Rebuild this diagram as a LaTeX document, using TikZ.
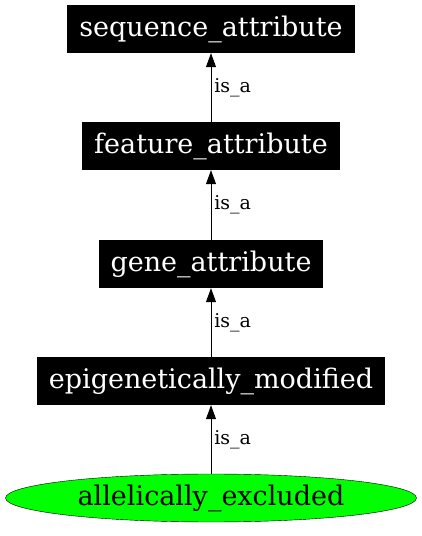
\documentclass[tikz,border=0pt]{standalone}
\usepackage{fontspec}
\setmainfont{DejaVu Serif}
\usepackage{xcolor}
\usepackage{tikz}
\usetikzlibrary{shapes.geometric, arrows.meta, positioning}

\begin{document}
\begin{tikzpicture}[x=1pt, y=1pt,
    term/.style={rectangle, fill=black, text=white, minimum height=48pt, inner xsep=12pt, font=\fontsize{27}{30}\selectfont},
    leaf/.style={ellipse, draw, fill=green, minimum width=411pt, minimum height=48pt, inner sep=0pt, font=\fontsize{27}{30}\selectfont},
    isa/.style={-{Triangle[length=14pt, width=10pt]}, line width=0.8pt},
    rel/.style={right, font=\fontsize{19}{21}\selectfont, inner xsep=3pt}
]
    \useasboundingbox (0,0) rectangle (421,536);

    \node[term] (seq) at (211,507) {sequence\_attribute};
    \node[term] (feat) at (211,390) {feature\_attribute};
    \node[term] (gene) at (211,272) {gene\_attribute};
    \node[term] (epi) at (211,155) {epigenetically\_modified};
    \node[leaf] (alle) at (211,38) {allelically\_excluded};

    \draw[isa] (feat.north) -- node[rel] {is\_a} (seq.south);
    \draw[isa] (gene.north) -- node[rel] {is\_a} (feat.south);
    \draw[isa] (epi.north) -- node[rel] {is\_a} (gene.south);
    \draw[isa] (alle.north) -- node[rel] {is\_a} (epi.south);
\end{tikzpicture}
\end{document}
